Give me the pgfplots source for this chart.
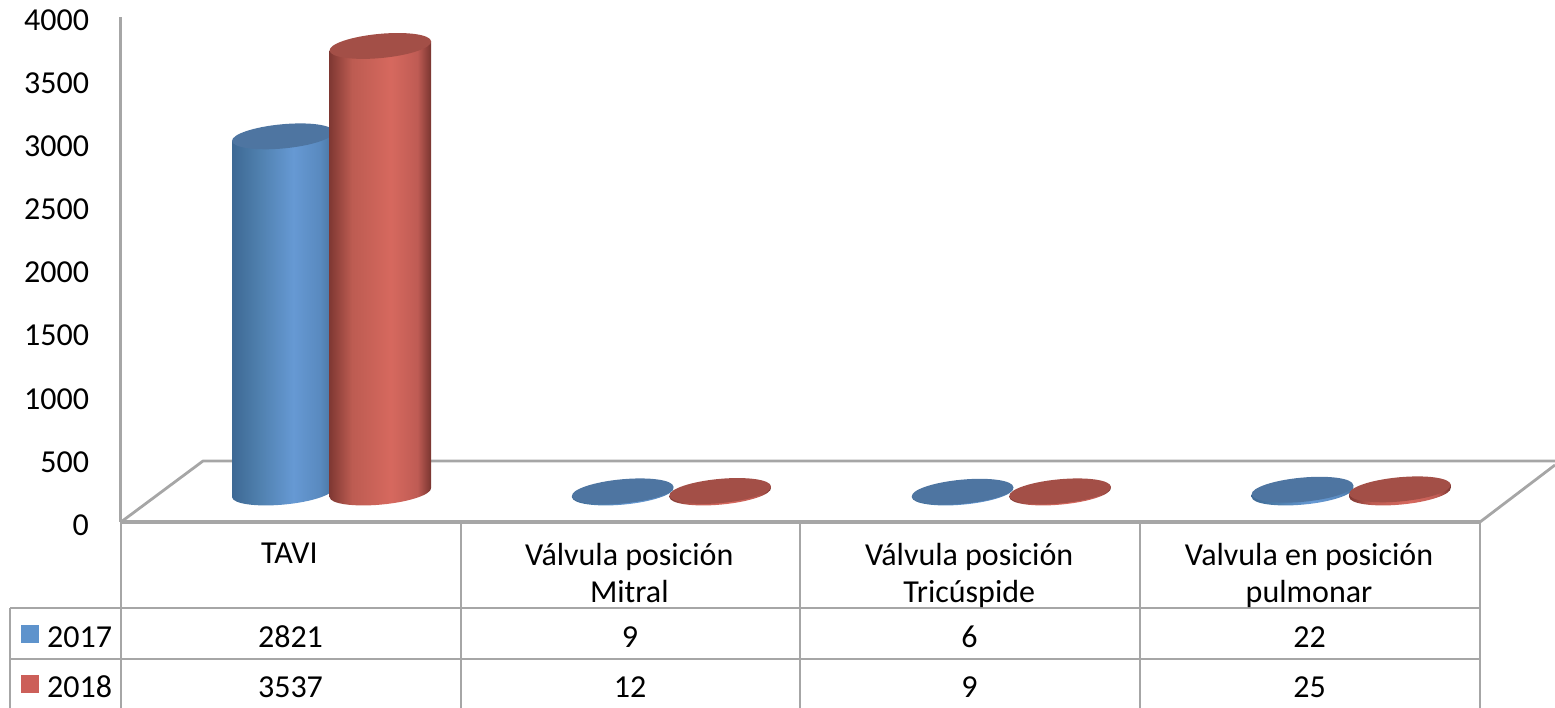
\documentclass[border=0pt]{standalone}
\usepackage{fontspec}
\setmainfont{Carlito}
\usepackage{pgfplots}
\usepackage{pgfplotstable}
\pgfplotsset{compat=1.18}
\definecolor{gridc}{HTML}{A6A6A6}
\definecolor{keyA}{HTML}{5E93CC}
\definecolor{keyB}{HTML}{CC5F59}
\definecolor{topA}{HTML}{4E75A1}
\definecolor{topB}{HTML}{A34F47}
\pgfdeclarehorizontalshading{shA}{100bp}{rgb(0bp)=(0.24,0.41,0.58); rgb(25bp)=(0.24,0.41,0.58); rgb(38bp)=(0.31,0.50,0.68); rgb(55bp)=(0.40,0.60,0.83); rgb(68bp)=(0.35,0.54,0.75); rgb(75bp)=(0.28,0.45,0.62); rgb(100bp)=(0.28,0.45,0.62)}
\pgfdeclarehorizontalshading{shB}{100bp}{rgb(0bp)=(0.50,0.22,0.20); rgb(25bp)=(0.50,0.22,0.20); rgb(36bp)=(0.74,0.36,0.32); rgb(55bp)=(0.84,0.41,0.37); rgb(68bp)=(0.75,0.36,0.33); rgb(75bp)=(0.46,0.20,0.18); rgb(100bp)=(0.46,0.20,0.18)}
% one cylinder, its height taken from the data value #3
\newcommand{\cyl}[3]{%
  \begin{tikzpicture}[x=1pt,y=1pt]
    \pgfmathsetmacro{\h}{#3*0.12625}
    \path[draw=none,use as bounding box] (-60,-60) rectangle (60,60);
    \path[draw=none,shading=#1] (-50.78,-4.67) -- (-50.78,-4.67-\h)
       .. controls (-50.19,-11.30-\h) and (-26.99,-14.63-\h) .. (1.08,-12.05-\h)
       .. controls (29.15,-9.47-\h) and (51.38,-1.96-\h) .. (50.78,4.67-\h)
       -- (50.78,4.67) -- cycle;
    \fill[draw=none,#2,rotate=5.3] (0,0) ellipse[x radius=51,y radius=12.1];
  \end{tikzpicture}%
}
\pgfplotstableread{
x v
0 2821
1 9
2 6
3 22
}\datA
\pgfplotstableread{
x v
0 3537
1 12
2 9
3 25
}\datB
\begin{document}
\begin{tikzpicture}[x=1pt,y=1pt,font=\fontsize{32}{37}\selectfont]
\path[use as bounding box] (0,0) rectangle (1555,-708);
% floor
\draw[gridc,line width=2.8pt,line join=round] (121,-522) -- (203,-461) -- (1555,-461);
\draw[gridc,line width=2.8pt] (1480,-522) -- (1555,-465);
% table rules
\draw[gridc,line width=2.8pt]
  (121,-522) -- (121,-708)
  (461,-522) -- (461,-708)
  (800,-522) -- (800,-708)
  (1140,-522) -- (1140,-708)
  (1480,-522) -- (1480,-708)
  (10,-608) -- (1480,-608)
  (10,-659) -- (1480,-659)
  (10,-608) -- (10,-708);
\begin{axis}[
  at={(120.5pt,-522pt)},anchor=south west,
  scale only axis,width=1359.5pt,height=505pt,
  xmin=-0.5,xmax=3.5,ymin=0,ymax=4000,
  clip=false,
  axis x line=bottom,axis y line=left,
  axis line style={gridc,line width=3.2pt,-},
  major tick length=0pt,
  xtick={0,1,2,3},
  xticklabels={TAVI,{Válvula posición\\Mitral},{Válvula posición\\Tricúspide},{Valvula en posición\\pulmonar}},
  xticklabel style={align=center,anchor=north,yshift=-17.5pt,xshift=-1pt,font=\fontsize{32}{37}\selectfont},
  ytick={0,500,...,4000},
  yticklabel style={yshift=-3pt,xshift=-28pt,font=\fontsize{32}{37}\selectfont},
  y tick label style={/pgf/number format/.cd,1000 sep={},assume math mode=true},
  tick label style={text=black},
  every node near coord/.append style={anchor=center,inner sep=0pt,outer sep=0pt,draw=none,fill=none},
]
\addplot[only marks,mark=none,point meta=y,
  visualization depends on={\thisrow{v}\as\val},
  nodes near coords={\cyl{shA}{topA}{\val}},
  every node near coord/.append style={xshift=-7.6pt,yshift=29.5pt,anchor=center}]
  table[x=x,y=v] {\datA};
\addplot[only marks,mark=none,point meta=y,
  visualization depends on={\thisrow{v}\as\val},
  nodes near coords={\cyl{shB}{topB}{\val}},
  every node near coord/.append style={xshift=89.9pt,yshift=29.5pt,anchor=center}]
  table[x=x,y=v] {\datB};
\end{axis}
% legend keys
\fill[keyA] (21,-625) rectangle (39,-643);
\fill[keyB] (21,-675) rectangle (39,-693);
\node[anchor=base west,inner sep=0] at (47,-647) {2017};
\node[anchor=base west,inner sep=0] at (47,-697) {2018};
% values
\foreach \x/\a/\b in {290.5/2821/3537,630/9/12,969.5/6/9,1309.5/22/25}{
  \node[anchor=base,inner sep=0] at (\x,-647) {\a};
  \node[anchor=base,inner sep=0] at (\x,-697) {\b};
}
\end{tikzpicture}
\end{document}
